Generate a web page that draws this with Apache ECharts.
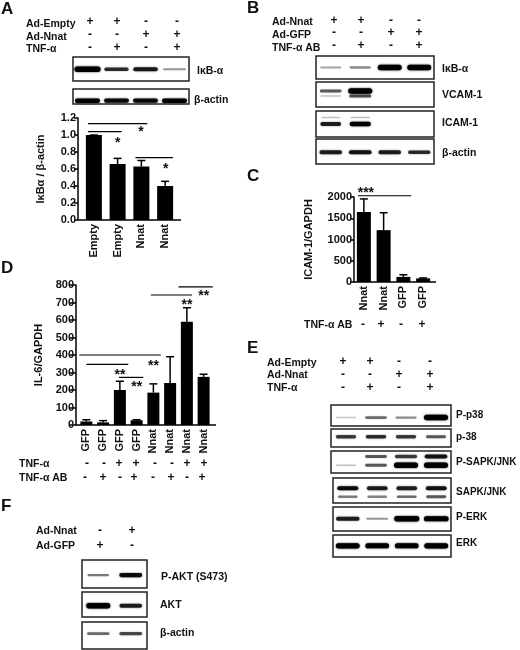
<!DOCTYPE html>
<html>
<head>
<meta charset="utf-8">
<style>
  html, body { margin: 0; padding: 0; background: #fff; }
  #fig { width: 520px; height: 650px; }
</style>
<script src="https://cdn.jsdelivr.net/npm/echarts@6/dist/echarts.min.js"></script>
</head>
<body>
<div id="fig"></div>
<script>
// panel A
var aCats = ['Empty', 'Empty', 'Nnat', 'Nnat'];
var aVals = [1.0, 0.66, 0.63, 0.40];
var aErrs = [1.0, 0.725, 0.70, 0.455];
var aSig = [[-0.25, 2.25, 1.134, 1.98, 1.06, '*'], [-0.25, 1.17, 1.04, 1.0, 0.93, '*'], [1.75, 3.33, 0.735, 3.03, 0.62, '*']];
// panel C
var cCats = ['Nnat', 'Nnat', 'GFP', 'GFP'];
var cVals = [1650, 1220, 120, 85];
var cErrs = [1955, 1630, 170, 95];
var cSig = [[-0.3, 2.4, 2030, 0.1, 2130, '***']];
// panel D
var dCats = ['GFP', 'GFP', 'GFP', 'GFP', 'Nnat', 'Nnat', 'Nnat', 'Nnat'];
var dVals = [20, 15, 200, 27, 185, 240, 590, 275];
var dErrs = [30, 25, 250, 30, 235, 390, 670, 290];
var dSig = [[-0.42, 4.45, 400, 4.0, 350, '**'], [0, 2.5, 347, 2.0, 295, '**'], [1.95, 3.4, 272, 3.0, 225, '**'], [3.85, 6.3, 743, 6.0, 695, '**'], [5.5, 7.55, 789, 7.0, 745, '**']];

// band strengths, one value per lane
var aIkb = [1, 0.55, 0.62, 0.22];
var aActin = [0.75, 0.7, 0.7, 0.75];
var bIkb = [0.18, 0.25, 0.95, 0.95];
var bVcamUp = [0.4, 1, 0, 0];
var bVcamLow = [0.1, 0.45, 0, 0];
var bIcamSmear = [0.1, 0.12, 0, 0];
var bIcam = [0.6, 0.75, 0, 0];
var bActin = [0.6, 0.65, 0.6, 0.55];
var eP38p = [0.08, 0.35, 0.25, 1];
var eP38 = [0.5, 0.55, 0.5, 0.4];
var eJnkPUp = [0, 0.4, 0.5, 0.65];
var eJnkPLow = [0.1, 0.4, 1, 1];
var eJnkUp = [0.7, 0.6, 0.6, 0.65];
var eJnkLow = [0.3, 0.28, 0.35, 0.4];
var eErkP = [0.6, 0.22, 1, 0.9];
var eErk = [0.95, 0.9, 0.9, 0.95];
var fAktP = [0.3, 0.7];
var fAkt = [1, 0.6];
var fActin = [0.35, 0.45];

// +/- rows
var aHead = [['Ad-Empty', '+', '+', '-', '-'], ['Ad-Nnat', '-', '-', '+', '+'], ['TNF-α', '-', '+', '-', '+']];
var bHead = [['Ad-Nnat', '+', '+', '-', '-'], ['Ad-GFP', '-', '-', '+', '+'], ['TNF-α AB', '-', '+', '-', '+']];
var cRow = [['TNF-α AB', '-', '+', '-', '+']];
var dRows = [['TNF-α', '-', '-', '+', '+', '-', '-', '+', '+'], ['TNF-α AB', '-', '+', '-', '+', '-', '+', '-', '+']];
var eHead = [['Ad-Empty', '+', '+', '-', '-'], ['Ad-Nnat', '-', '-', '+', '+'], ['TNF-α', '-', '+', '-', '+']];
var fHead = [['Ad-Nnat', '-', '+'], ['Ad-GFP', '+', '-']];

var FONT = '"Liberation Sans", Arial, sans-serif';
var grids = [], xAxes = [], yAxes = [], series = [], graphics = [];

function addText(x, y, str, size, opts) {
  opts = opts || {};
  graphics.push({
    type: 'text', x: x, y: y, z: 10,
    style: {
      text: str, fill: '#111', font: 'bold ' + size + 'px ' + FONT,
      textAlign: opts.align || 'left', verticalAlign: 'middle'
    }
  });
}

function addRows(rows, labelX, markX, ys, markYs) {
  var perRow = Array.isArray(markX[0]);
  rows.forEach(function (row, r) {
    addText(labelX, ys[r], row[0], 10.5);
    row.slice(1).forEach(function (m, i) {
      addText(perRow ? markX[r][i] : markX[i], markYs[r], m, 12, { align: 'center' });
    });
  });
}

function errItem(params, api) {
  var top = api.coord([api.value(0), api.value(1)]);
  var base = api.coord([api.value(0), api.value(2)]);
  var cap = 4;
  var st = { stroke: '#000', lineWidth: 1.5 };
  return {
    type: 'group', children: [
      { type: 'line', shape: { x1: top[0], y1: top[1], x2: base[0], y2: base[1] }, style: st },
      { type: 'line', shape: { x1: top[0] - cap, y1: top[1], x2: top[0] + cap, y2: top[1] }, style: st }
    ]
  };
}

function addBarChart(box, cats, vals, errs, sig, yMax, yStep, decimals, name, nameGap, barW, offset, axisEnds, tickLen) {
  var idx = grids.length;
  grids.push({ left: box[0], top: box[1], width: box[2], height: box[3] });
  xAxes.push({
    type: 'category', gridIndex: idx, data: cats,
    axisLine: { show: false }, axisTick: { show: false },
    axisLabel: { rotate: 90, interval: 0, margin: 4, color: '#111', fontFamily: FONT, fontWeight: 'bold', fontSize: 11 }
  });
  yAxes.push({
    type: 'value', gridIndex: idx, min: 0, max: yMax, interval: yStep, offset: offset,
    splitLine: { show: false },
    axisLine: { show: true, lineStyle: { color: '#000', width: 1.5 } },
    axisTick: { show: true, length: tickLen, lineStyle: { color: '#000', width: 1.5 } },
    axisLabel: {
      margin: 2, color: '#111', fontFamily: FONT, fontWeight: 'bold', fontSize: 11,
      formatter: function (v) { return v.toFixed(decimals); }
    },
    name: name, nameLocation: 'middle', nameGap: nameGap, nameRotate: 90,
    nameTextStyle: { color: '#111', fontFamily: FONT, fontWeight: 'bold', fontSize: 11 }
  });
  series.push({
    type: 'bar', xAxisIndex: idx, yAxisIndex: idx, data: vals, barWidth: barW,
    itemStyle: { color: '#000' }
  });
  series.push({
    type: 'custom', xAxisIndex: idx, yAxisIndex: idx, encode: { x: 0, y: 1 },
    data: errs.map(function (e, i) { return [i, e, vals[i]]; }),
    renderItem: errItem
  });
  series.push({
    type: 'custom', xAxisIndex: idx, yAxisIndex: idx, clip: false,
    data: sig.map(function (s, i) { return [i, s[2]]; }),
    encode: { x: 0, y: 1 },
    renderItem: function (params, api) {
      var s = sig[params.dataIndex];
      var start = api.coord([0, s[2]]);
      var step = api.size([1, 0])[0];
      var star = api.coord([0, s[4]]);
      return {
        type: 'group', children: [
          { type: 'line', shape: { x1: start[0] + s[0] * step, y1: start[1], x2: start[0] + s[1] * step, y2: start[1] }, style: { stroke: '#000', lineWidth: 1.2 } },
          { type: 'text', x: start[0] + s[3] * step, y: star[1] + 2, style: { text: s[5], fill: '#111', font: 'bold 14px ' + FONT, textAlign: 'center', verticalAlign: 'middle' } }
        ]
      };
    }
  });
  // the drawn baseline runs a little past the first and last bars
  graphics.push({ type: 'line', z: 10, shape: { x1: axisEnds[0], y1: box[1] + box[3], x2: axisEnds[1], y2: box[1] + box[3] }, style: { stroke: '#000', lineWidth: 1.5 } });
}

// box = left, top, width, height; bands = [values, position down the box 0..1]
function addBlot(box, bands, bandW) {
  var idx = grids.length;
  var lanes = bands[0][0].map(function (v, i) { return i; });
  grids.push({ left: box[0], top: box[1], width: box[2], height: box[3], show: true, backgroundColor: '#fff', borderColor: '#222', borderWidth: 1.5 });
  xAxes.push({ type: 'category', gridIndex: idx, data: lanes, show: false });
  yAxes.push({ type: 'value', gridIndex: idx, min: 0, max: 1, inverse: true, show: false });
  bands.forEach(function (b) {
    series.push({
      type: 'custom', xAxisIndex: idx, yAxisIndex: idx, encode: { x: 0, y: 1 },
      data: b[0].map(function (v, i) { return [i, b[1], v]; }),
      renderItem: function (params, api) {
        var v = api.value(2);
        if (v <= 0) return null;
        var p = api.coord([api.value(0), api.value(1)]);
        var h = 1.2 + 4.3 * v;
        var w = bandW * (0.85 + 0.15 * v);
        return {
          type: 'rect',
          shape: { x: p[0] - w / 2, y: p[1] - h / 2, width: w, height: h, r: h / 2 },
          style: { fill: 'rgba(0,0,0,' + Math.min(1, 0.12 + v * 1.15) + ')', shadowBlur: 2, shadowColor: 'rgba(0,0,0,' + Math.min(0.9, v) + ')' }
        };
      }
    });
  });
}

// panel letters
[['A', 1, 9], ['B', 247, 8], ['C', 247, 176], ['D', 1, 268], ['E', 247, 348], ['F', 1, 506]].forEach(function (l) {
  addText(l[1], l[2], l[0], 17);
});

// A
addRows(aHead, 26, [90, 117, 146, 177], [24, 37, 49], [22, 35, 48]);
addBlot([73, 57, 116, 24], [[aIkb, 0.51]], 26);
addBlot([73, 89, 116, 15], [[aActin, 0.78]], 26);
addText(197, 71, 'IκB-α', 10.5);
addText(194, 100, 'β-actin', 10.5);
addBarChart([82, 118, 95, 102], aCats, aVals, aErrs, aSig, 1.2, 0.2, 1, 'IκBα / β-actin', 32, 16, 4, [78, 181], 4);

// B
addRows(bHead, 272, [334, 361, 391, 419], [22, 35, 48], [21, 33, 46]);
addBlot([316, 56, 118, 23], [[bIkb, 0.5]], 24);
addBlot([316, 82, 118, 25], [[bVcamUp, 0.36], [bVcamLow, 0.56]], 24);
addBlot([316, 111, 118, 26], [[bIcamSmear, 0.25], [bIcam, 0.5]], 22);
addBlot([316, 139, 118, 25], [[bActin, 0.53]], 24);
addText(442, 69, 'IκB-α', 10.5);
addText(442, 95, 'VCAM-1', 10.5);
addText(442, 123, 'ICAM-1', 10.5);
addText(442, 153, 'β-actin', 10.5);

// C
addBarChart([354, 197, 79, 85], cCats, cVals, cErrs, cSig, 2000, 500, 0, 'ICAM-1/GAPDH', 40, 14, 0, [354, 436], 4);
addRows(cRow, 304, [363, 381, 401, 422], [325], [325]);

// D
addBarChart([78, 285, 134, 140], dCats, dVals, dErrs, dSig, 800, 100, 0, 'IL-6/GAPDH', 32, 12, 2, [76, 216], 6);
addRows(dRows, 19, [[87, 104, 119, 136, 155, 172, 187, 204], [85, 103, 120, 134, 153, 171, 187, 202]], [464, 478], [464, 478]);

// E
addRows(eHead, 267, [343, 370, 399, 430], [363, 375, 388], [362, 375, 388]);
addBlot([331, 405, 120, 21], [[eP38p, 0.6]], 24);
addBlot([331, 429, 120, 18], [[eP38, 0.43]], 22);
addBlot([331, 451, 120, 22], [[eJnkPUp, 0.25], [eJnkPLow, 0.65]], 24);
addBlot([333, 478, 118, 25], [[eJnkUp, 0.41], [eJnkLow, 0.75]], 22);
addBlot([333, 507, 118, 24], [[eErkP, 0.49]], 25);
addBlot([333, 535, 118, 22], [[eErk, 0.49]], 24);
addText(456, 415, 'P-p38', 10);
addText(456, 437, 'p-38', 10);
addText(456, 462, 'P-SAPK/JNK', 10);
addText(456, 492, 'SAPK/JNK', 10);
addText(456, 517, 'P-ERK', 10);
addText(456, 543, 'ERK', 10);

// F
addRows(fHead, 36, [100, 132], [531, 546], [531, 546]);
addBlot([82, 560, 65, 28], [[fAktP, 0.54]], 24);
addBlot([82, 592, 65, 25], [[fAkt, 0.55]], 24);
addBlot([82, 622, 65, 27], [[fActin, 0.43]], 25);
addText(161, 577, 'P-AKT (S473)', 10.5);
addText(160, 605, 'AKT', 10.5);
addText(160, 633, 'β-actin', 10.5);

var chart = echarts.init(document.getElementById('fig'), null, { renderer: 'canvas' });
chart.setOption({
  animation: false,
  backgroundColor: '#fff',
  grid: grids,
  xAxis: xAxes,
  yAxis: yAxes,
  series: series,
  graphic: graphics
});
</script>
</body>
</html>
